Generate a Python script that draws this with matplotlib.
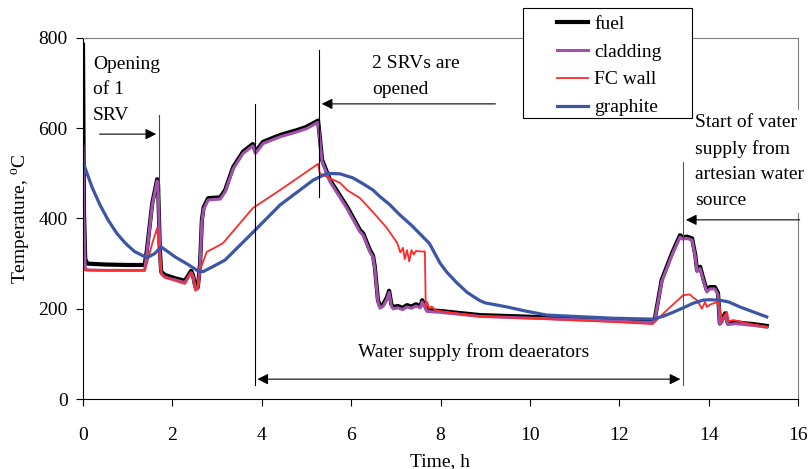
import matplotlib
matplotlib.use("Agg")
import matplotlib.pyplot as plt
from matplotlib.patches import Rectangle

plt.rcParams['font.family'] = ['Liberation Serif', 'DejaVu Serif']
plt.rcParams['mathtext.fontset'] = 'custom'
plt.rcParams['mathtext.rm'] = 'Liberation Serif'

# fuel / cladding (same time base)
t_fuel = [0, 0.02, 0.05, 0.1, 0.5, 1.0, 1.38, 1.43, 1.55, 1.66, 1.68, 1.72, 1.75, 1.83, 2.05,
          2.28, 2.42, 2.46, 2.51, 2.57, 2.62, 2.66, 2.70, 2.80, 3.07, 3.18, 3.36, 3.58, 3.80,
          3.86, 3.89, 4.03, 4.41, 4.79, 5.0, 5.26, 5.30, 5.35, 5.53, 5.91, 6.20, 6.27, 6.42,
          6.49, 6.53, 6.60, 6.65, 6.72, 6.80, 6.85, 6.90, 6.94, 7.05, 7.15, 7.25, 7.35, 7.45,
          7.55, 7.59, 7.64, 7.70, 8.0, 8.88, 10.38, 11.86, 12.75, 12.80, 12.95, 13.18, 13.36,
          13.42, 13.51, 13.63, 13.70, 13.74, 13.81, 13.90, 13.96, 14.03, 14.14, 14.21, 14.25,
          14.31, 14.37, 14.43, 14.6, 15.0, 15.30]
T_fuel = [785, 420, 310, 300, 298, 297, 297, 330, 434, 487, 475, 330, 282, 275, 268,
          262, 284, 275, 250, 248, 300, 397, 425, 445, 447, 463, 514, 548, 565,
          548, 552, 570, 585, 596, 603, 617, 580, 530, 485, 426, 374, 367, 330,
          318, 293, 219, 205, 210, 225, 240, 210, 204, 206, 202, 208, 205, 210,
          206, 219, 210, 197, 195, 186, 181, 176, 172, 180, 264, 323, 363,
          358, 360, 356, 320, 286, 293, 260, 241, 248, 248, 235, 168,
          178, 190, 168, 170, 166, 162]
T_clad = [560, 400, 290, 286, 285, 285, 285, 325, 430, 483, 470, 325, 278, 270, 264,
          258, 280, 272, 246, 244, 296, 393, 421, 441, 443, 459, 510, 544, 561,
          544, 548, 566, 581, 592, 599, 613, 576, 526, 481, 422, 370, 363, 326,
          314, 289, 215, 201, 206, 221, 236, 206, 200, 202, 198, 204, 201, 206,
          202, 215, 206, 194, 192, 183, 178, 173, 169, 177, 260, 319, 359,
          354, 356, 352, 316, 282, 289, 256, 237, 244, 244, 231, 165,
          175, 186, 165, 167, 163, 159]

# FC wall
t_fc = [0, 0.02, 0.05, 0.5, 1.0, 1.38, 1.43, 1.55, 1.66, 1.70, 1.75, 1.83, 2.28, 2.42, 2.46,
        2.51, 2.57, 2.62, 2.77, 3.13, 3.80, 4.41, 5.26, 5.30, 5.46, 5.75, 5.91, 6.20, 6.49,
        6.80, 7.03, 7.10, 7.16, 7.20, 7.25, 7.30, 7.35, 7.40, 7.45, 7.55, 7.65, 7.67, 7.70,
        7.75, 7.80, 7.9, 8.88, 10.4, 12.0, 12.75, 12.84, 13.10, 13.43, 13.58, 13.65, 13.74,
        13.85, 13.92, 13.96, 14.05, 14.21, 14.25, 14.30, 14.36, 14.41, 14.45, 14.55, 15.0, 15.30]
T_fc = [290, 290, 285, 285, 285, 285, 300, 345, 379, 330, 277, 270, 255, 280, 270,
        240, 244, 286, 326, 345, 423, 463, 521, 500, 492, 479, 463, 445, 414,
        379, 346, 325, 335, 310, 330, 305, 330, 320, 328, 327, 327, 204, 215,
        200, 205, 196, 183, 177, 170, 166, 175, 200, 230, 232, 225, 219,
        200, 215, 204, 210, 215, 205, 168, 185, 193, 172, 175, 165, 160]

# graphite
t_gr = [0, 0.2, 0.38, 0.56, 0.75, 0.94, 1.15, 1.39, 1.45, 1.60, 1.75, 2.06, 2.35, 2.57, 2.68,
        2.9, 3.18, 3.85, 4.41, 5.15, 5.46, 5.75, 6.04, 6.25, 6.49, 6.65, 6.85, 7.09, 7.35,
        7.61, 7.75, 7.99, 8.15, 8.37, 8.6, 8.88, 9.0, 9.49, 9.9, 10.38, 11.0, 11.86, 12.75,
        13.0, 13.2, 13.43, 13.65, 13.87, 14.0, 14.25, 14.45, 14.70, 15.0, 15.30]
T_gr = [525, 470, 430, 397, 368, 346, 327, 315, 314, 322, 337, 315, 298, 284, 282,
        293, 308, 374, 430, 485, 500, 499, 490, 478, 463, 448, 432, 408, 385,
        359, 345, 301, 280, 257, 236, 218, 213, 204, 195, 186, 183, 179, 177,
        184, 192, 202, 212, 219, 220, 219, 215, 204, 193, 182]

x_ticks = [0, 2, 4, 6, 8, 10, 12, 14, 16]
y_ticks = [0, 200, 400, 600, 800]

fig = plt.figure(figsize=(8.1, 4.69), dpi=100)
ax = fig.add_axes([83 / 810, 1 - 399 / 469, 715 / 810, 361 / 469])

l1, = ax.plot(t_fuel, T_fuel, color='black', lw=3.0, label='fuel')
l2, = ax.plot(t_fuel, T_clad, color='#A052AA', lw=2.2, label='cladding')
l3, = ax.plot(t_fc, T_fc, color='#FF2A2A', lw=1.3, label='FC wall')
l4, = ax.plot(t_gr, T_gr, color='#3A56A5', lw=2.3, label='graphite')

ax.set_xlim(0, 16)
ax.set_ylim(0, 800)
ax.set_xticks(x_ticks)
ax.set_yticks(y_ticks)
ax.tick_params(labelsize=14, direction='out', length=5, width=0.8, pad=6)
ax.tick_params(axis='x', pad=15)
for s in ['top', 'right']:
    ax.spines[s].set_color('#808080')
ax.set_xlabel('Time, h', fontsize=14, labelpad=7)
ax.set_ylabel('Temperature, $^{\\rm o}$C', fontsize=14, labelpad=4)

fs = 14
ls = 1.65
arr = dict(arrowstyle='-|>', color='black', lw=0.8, mutation_scale=16)

# Opening of 1 SRV
ax.text(0.22, 760, 'Opening\nof 1\nSRV', fontsize=fs, va='top', ha='left', linespacing=ls)
ax.plot([1.70, 1.70], [460, 630], color='#444444', lw=0.8)
ax.annotate('', xy=(1.70, 587), xytext=(0.31, 587), arrowprops=arr)

# 2 SRVs are opened
ax.text(6.47, 762, '2 SRVs are\nopened', fontsize=fs, va='top', ha='left', linespacing=ls)
ax.plot([5.28, 5.28], [448, 774], color='black', lw=0.8)
ax.annotate('', xy=(5.28, 654), xytext=(9.29, 654), arrowprops=arr)

# Water supply from deaerators
ax.plot([3.84, 3.84], [31, 654], color='black', lw=0.8)
ax.plot([13.43, 13.43], [31, 525], color='#555555', lw=0.8)
ax.annotate('', xy=(13.43, 44), xytext=(3.84, 44),
            arrowprops=dict(arrowstyle='<|-|>', color='black', lw=0.8, mutation_scale=16))
ax.text(8.75, 104, 'Water supply from deaerators', fontsize=fs, ha='center', va='center')

# artesian water
ax.text(13.69, 632, 'Start of vater\nsupply from\nartesian water\nsource', fontsize=fs,
        va='top', ha='left', linespacing=ls, zorder=4,
        bbox=dict(facecolor='white', edgecolor='none', pad=3))
ax.annotate('', xy=(13.43, 397), xytext=(16.1, 397), arrowprops=arr,
            annotation_clip=False)

# legend box
fig.patches.append(Rectangle((523 / 810, 1 - 118 / 469), 169 / 810, 110 / 469,
                             transform=fig.transFigure, facecolor='white',
                             edgecolor='black', lw=0.8, zorder=2))
fig.legend(handles=[l1, l2, l3, l4], loc='upper left', bbox_to_anchor=(557 / 810, 1 - 15 / 469),
           frameon=False, fontsize=fs, borderpad=0, borderaxespad=0, handlelength=1.6,
           handletextpad=0.3, labelspacing=0.53)

fig.savefig('out.png', dpi=100)
